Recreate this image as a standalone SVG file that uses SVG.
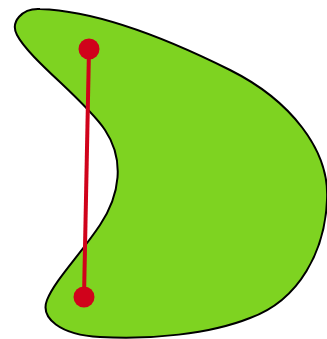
<svg xmlns="http://www.w3.org/2000/svg" width="327" height="339" viewBox="0 0 327 339">
<style>
.blob{fill:#7ed321;stroke:#000;stroke-width:2}
.seg{stroke:#d0021b;stroke-width:4;fill:none}
.pt{fill:#d0021b}
</style>
<rect width="327" height="339" fill="#fff"/>
<g id="shape">
<path class="blob" d="M 40,9 C 100,11 170,40 230,70 C 290,100 330,150 327,200 C 325,250 300,300 250,318 C 210,334 150,340 100,337 C 60,335 40,318 47,300 C 55,280 80,255 100,225 C 120,195 125,160 105,130 C 85,100 30,60 17,35 C 10,22 22,8 40,9 Z"/>
</g>
<g id="segment">
<line class="seg" x1="89" y1="49" x2="84" y2="297"/>
<circle class="pt" cx="89" cy="49" r="10.5"/>
<circle class="pt" cx="84" cy="297" r="10.5"/>
</g>
</svg>
